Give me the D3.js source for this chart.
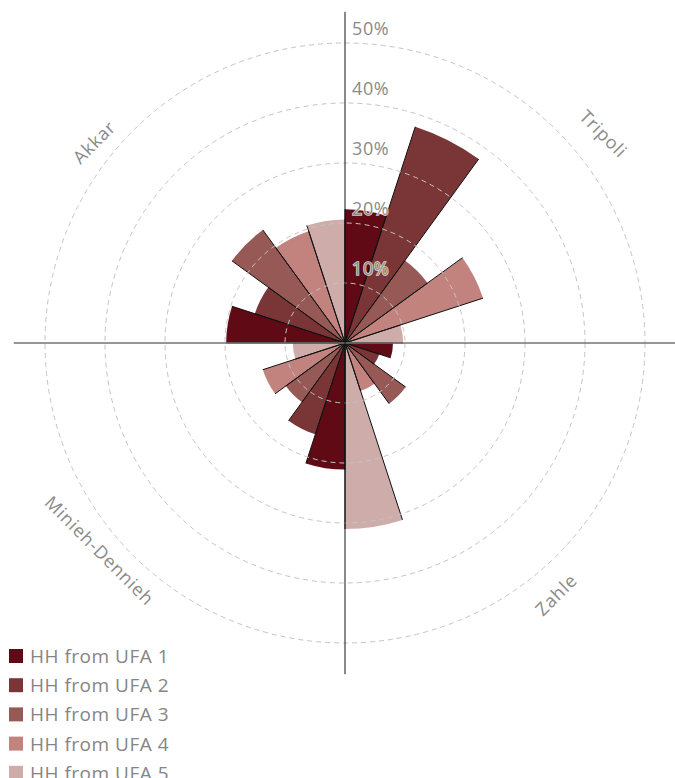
<!DOCTYPE html>
<html><head><meta charset="utf-8">
<script src="https://cdn.jsdelivr.net/npm/d3@7"></script>
<style>
html,body{margin:0;padding:0;background:#fff;}
svg{display:block;}
text{font-family:"Open Sans",sans-serif;}
</style></head>
<body>
<svg id="chart" width="675" height="778"></svg>
<script>
// ---- data ----
const regions = ["Tripoli", "Zahle", "Minieh-Dennieh", "Akkar"];
const seriesNames = ["HH from UFA 1", "HH from UFA 2", "HH from UFA 3", "HH from UFA 4", "HH from UFA 5"];
const ufa1 = [22.3, 8.0, 21.1, 19.8];
const ufa2 = [37.9, 6.0, 16.0, 15.8];
const ufa3 = [17.0, 12.5, 12.2, 23.3];
const ufa4 = [24.2, 8.4, 14.4, 19.6];
const ufa5 = [9.7, 31.0, 8.7, 20.6];
const tickValues = [10, 20, 30, 40, 50];
const tickLabels = ["10%", "20%", "30%", "40%", "50%"];
const colors = ["#600a15", "#7a3537", "#975955", "#c2837f", "#ceacaa"];
// label placement (degrees clockwise from top, radius in px, rotation)
const labelAngles = [51, 140, 229.8, 308.7];
const labelRadii = [333, 328, 321, 322];
const labelRot = [45, -45, 45, -45];

const series = [ufa1, ufa2, ufa3, ufa4, ufa5];
const cx = 345, cy = 343;
const svg = d3.select("#chart");
const r = d3.scaleLinear().domain([0, 50]).range([0, 300]);
const nSeries = series.length;
const slot = (Math.PI / 2) / nSeries;
const g = svg.append("g").attr("transform", `translate(${cx},${cy})`);

// build bar table
const bars = [];
regions.forEach((reg, q) => {
  series.forEach((vals, i) => {
    const a0 = q * Math.PI / 2 + i * slot;
    bars.push({region: reg, s: i, value: vals[q], a0, a1: a0 + slot});
  });
});

const arc = d3.arc().innerRadius(0).outerRadius(d => r(d.value))
  .startAngle(d => d.a0).endAngle(d => d.a1);

g.selectAll("path.bar").data(bars).join("path")
  .attr("class", "bar").attr("d", arc).attr("fill", d => colors[d.s]);

// radial edges
const edges = [];
bars.forEach(d => { edges.push({a: d.a0, v: d.value}); edges.push({a: d.a1, v: d.value}); });
g.selectAll("line.edge").data(edges).join("line")
  .attr("class", "edge")
  .attr("x1", 0).attr("y1", 0)
  .attr("x2", d => Math.sin(d.a) * r(d.v))
  .attr("y2", d => -Math.cos(d.a) * r(d.v))
  .attr("stroke", "#111").attr("stroke-width", 1);

// grid circles
g.selectAll("circle.grid").data(tickValues).join("circle")
  .attr("class", "grid").attr("r", d => r(d))
  .attr("fill", "none").attr("stroke", "#c4c4c4").attr("stroke-width", 1)
  .attr("stroke-dasharray", "5,4");

// axes
const axLen = r(55.2);
g.append("line").attr("x1", -axLen).attr("x2", axLen).attr("y1", 0).attr("y2", 0)
  .attr("stroke", "#737373").attr("stroke-width", 1.5);
g.append("line").attr("x1", 0).attr("x2", 0).attr("y1", -axLen).attr("y2", axLen)
  .attr("stroke", "#151515").attr("stroke-width", 1);

// tick labels
g.selectAll("text.tick").data(tickValues).join("text")
  .attr("class", "tick")
  .attr("x", 7).attr("y", d => -r(d) - 8)
  .attr("font-size", 18).attr("fill", "#8a8a8a").attr("letter-spacing", 0.6)
  .attr("stroke", "#fff").attr("stroke-opacity", 0.8).attr("stroke-width", 1.6).attr("paint-order", "stroke")
  .text((d, i) => tickLabels[i]);

// region labels
g.selectAll("text.region").data(regions).join("text")
  .attr("class", "region")
  .attr("transform", (d, i) => {
    const a = labelAngles[i] * Math.PI / 180;
    return `translate(${Math.sin(a) * labelRadii[i]},${-Math.cos(a) * labelRadii[i]}) rotate(${labelRot[i]})`;
  })
  .attr("text-anchor", "middle").attr("dominant-baseline", "central")
  .attr("font-size", 18).attr("letter-spacing", 0.8).attr("fill", "#8a8a8a")
  .text(d => d);

// legend
const leg = svg.append("g").attr("transform", "translate(9,649)");
const li = leg.selectAll("g").data(seriesNames).join("g")
  .attr("transform", (d, i) => `translate(0,${i * 29.2})`);
li.append("rect").attr("width", 14).attr("height", 14).attr("fill", (d, i) => colors[i]);
li.append("text").attr("x", 21).attr("y", 14).attr("font-size", 19).attr("letter-spacing", 0.5)
  .attr("fill", "#858585").text(d => d);
</script>
</body></html>
